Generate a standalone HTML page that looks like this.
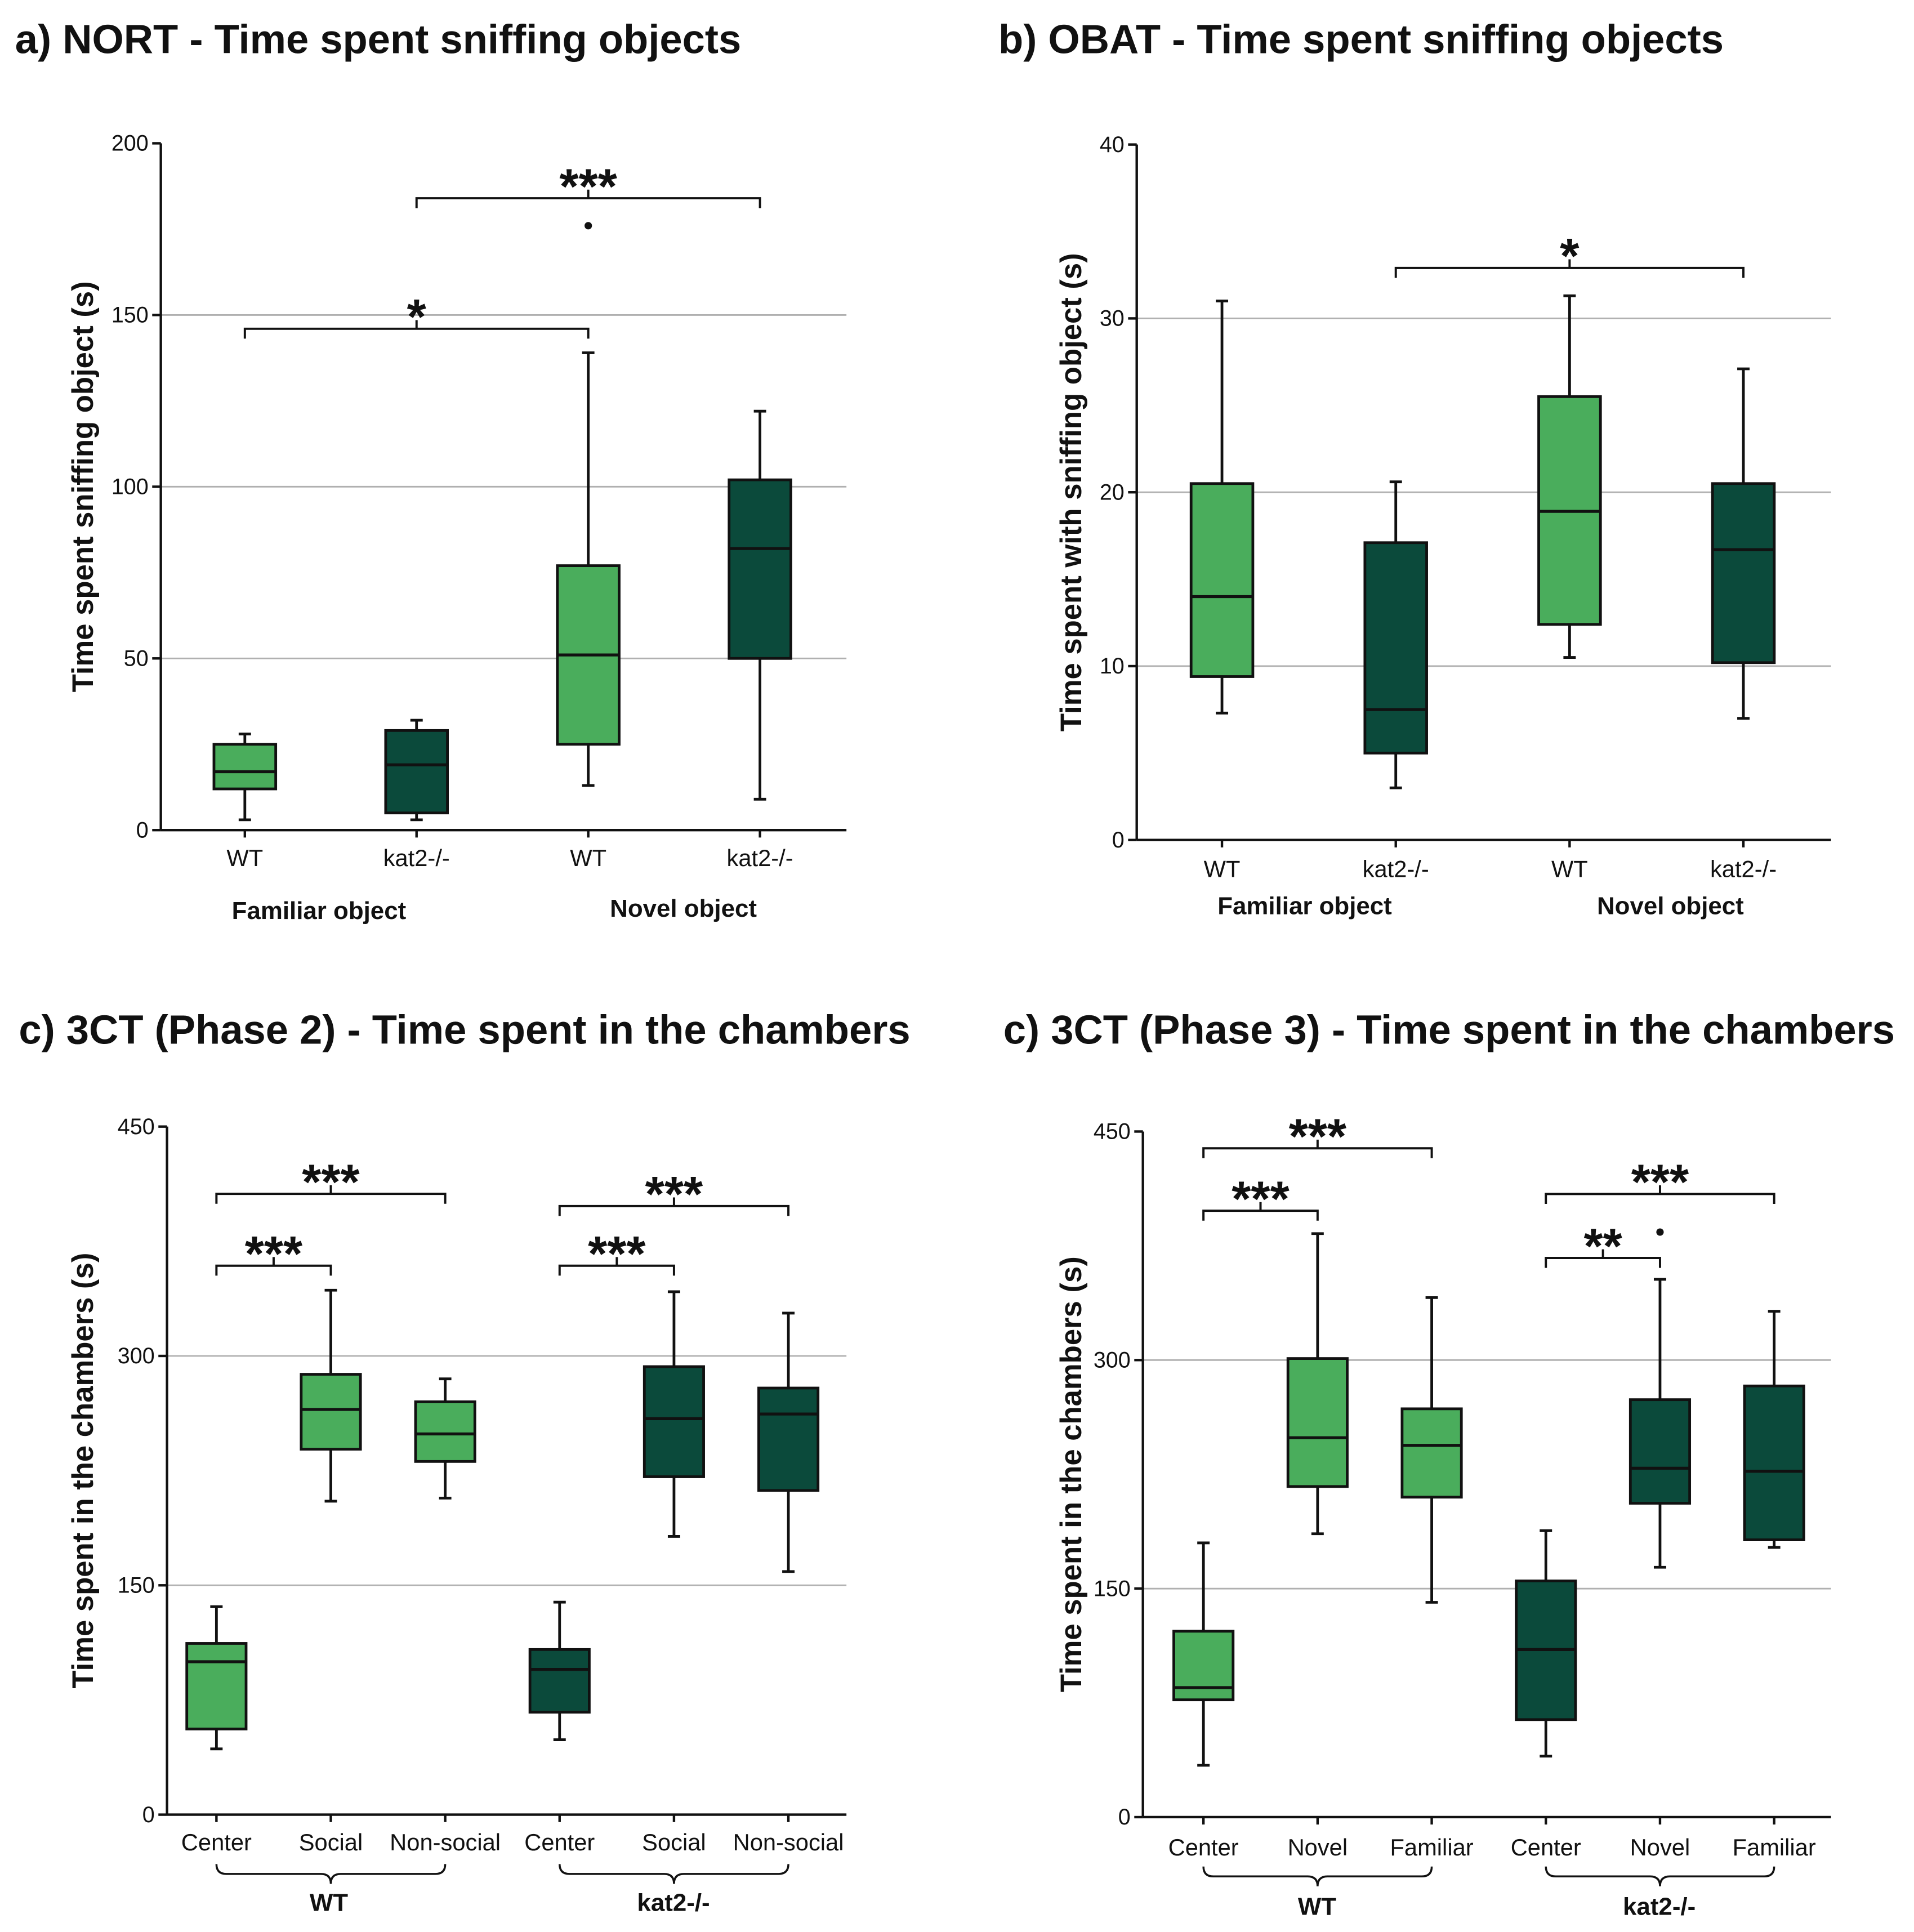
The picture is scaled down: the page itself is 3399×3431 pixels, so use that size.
<!DOCTYPE html>
<html><head><meta charset="utf-8"><style>
html,body{margin:0;padding:0;background:#fff}
svg{display:block}
text{font-family:"Liberation Sans",Arial,sans-serif;fill:#111}
</style></head><body>
<svg id="chart" width="3399" height="3431" viewBox="0 0 1549 1564" xmlns="http://www.w3.org/2000/svg"></svg>
<script>
// ---- data ----
const catsA = ["WT","kat2-/-","WT","kat2-/-"];
const whLoA = [3,3,13,9], q1A = [12,5,25,50], medA = [17,19,51,82], q3A = [25,29,77,102], whHiA = [28,32,139,122];
const outA = [[2,176]];
const ticksA = [0,50,100,150,200];
const sigA = [[0,2,146,"*"],[1,3,184,"***"]];

const catsB = ["WT","kat2-/-","WT","kat2-/-"];
const whLoB = [7.3,3,10.5,7], q1B = [9.4,5,12.4,10.2], medB = [14,7.5,18.9,16.7], q3B = [20.5,17.1,25.5,20.5], whHiB = [31,20.6,31.3,27.1];
const ticksB = [0,10,20,30,40];
const sigB = [[1,3,32.9,"*"]];

const catsC = ["Center","Social","Non-social","Center","Social","Non-social"];
const whLoC = [43,205,207,49,182,159], q1C = [56,239,231,67,221,212], medC = [100,265,249,95,259,262], q3C = [112,288,270,108,293,279], whHiC = [136,343,285,139,342,328];
const ticksC = [0,150,300,450];
const sigC = [[0,1,359,"***"],[0,2,406,"***"],[3,4,359,"***"],[3,5,398,"***"]];

const catsD = ["Center","Novel","Familiar","Center","Novel","Familiar"];
const whLoD = [34,186,141,40,164,177], q1D = [77,217,210,64,206,182], medD = [85,249,244,110,229,227], q3D = [122,301,268,155,274,283], whHiD = [180,383,341,188,353,332];
const outD = [[4,384]];
const ticksD = [0,150,300,450];
const sigD = [[0,1,398,"***"],[0,2,439,"***"],[3,4,367,"**"],[3,5,409,"***"]];

const LIGHT="#4aad5c", DARK="#0b4a3b";
const svg=document.getElementById('chart');
const NS="http://www.w3.org/2000/svg";
function mk(tag,attrs,parent){const e=document.createElementNS(NS,tag);for(const k in attrs)e.setAttribute(k,attrs[k]);(parent||svg).appendChild(e);return e;}
function txt(x,y,s,size,weight,anchor,parent){const t=mk('text',{x:x,y:y,'font-size':size,'font-weight':weight||'normal','text-anchor':anchor||'middle'},parent);t.textContent=s;return t;}

function panel(p){
  const g=mk('g',{});
  
  
  const ymax=p.ticks[p.ticks.length-1];
  const Y=v=>p.y0-(v/ymax)*(p.y0-p.y1);
  const X=i=>p.xs[0]+i*p.dx;
  const tt=txt(p.tx,p.ty,p.title,33,'bold','start',g);
  
  
  p.ticks.forEach((t,i)=>{
    if(i>0&&i<p.ticks.length-1){const l=mk('line',{x1:p.ax,x2:p.ax2,y1:Y(t),y2:Y(t),stroke:'#b0b0b0','stroke-width':1.3},g);
      }
    mk('line',{x1:p.ax-7,x2:p.ax,y1:Y(t),y2:Y(t),stroke:'#111','stroke-width':2},g);
    const lb=txt(p.ax-10,Y(t)+6,String(t),18,'normal','end',g);
    
  });
  const ya=mk('line',{x1:p.ax,x2:p.ax,y1:p.y1,y2:p.y0,stroke:'#111','stroke-width':2},g);
  
  const xa=mk('line',{x1:p.ax,x2:p.ax2,y1:p.y0,y2:p.y0,stroke:'#111','stroke-width':2},g);
  
  const yt=txt(0,0,p.ytitle,24,'bold','middle',g);
  yt.setAttribute('transform',`translate(${p.ytx},${(p.y0+p.y1)/2}) rotate(-90)`);
  
  const n=p.cats.length;
  for(let i=0;i<n;i++){
    const x=X(i), w=p.bw;
    const col=p.alt?((i%2===0)?LIGHT:DARK):((i<n/2)?LIGHT:DARK);
    mk('line',{x1:x,x2:x,y1:Y(p.hi[i]),y2:Y(p.lo[i]),stroke:'#111','stroke-width':2.2},g);
    mk('line',{x1:x-5,x2:x+5,y1:Y(p.hi[i]),y2:Y(p.hi[i]),stroke:'#111','stroke-width':2.2},g);
    mk('line',{x1:x-5,x2:x+5,y1:Y(p.lo[i]),y2:Y(p.lo[i]),stroke:'#111','stroke-width':2.2},g);
    const b=mk('rect',{x:x-w/2,y:Y(p.q3[i]),width:w,height:Y(p.q1[i])-Y(p.q3[i]),fill:col,stroke:'#111','stroke-width':2.2},g);
    
    mk('line',{x1:x-w/2,x2:x+w/2,y1:Y(p.med[i]),y2:Y(p.med[i]),stroke:'#111','stroke-width':2.4},g);
    mk('line',{x1:x,x2:x,y1:p.y0,y2:p.y0+6,stroke:'#111','stroke-width':2},g);
    const cl=txt(x,p.y0+p.catdy,p.cats[i],19,'normal','middle',g);
    
  }
  (p.out||[]).forEach(o=>{const c=mk('circle',{cx:X(o[0]),cy:Y(o[1]),r:3,fill:'#111'},g);
    });
  p.sig.forEach(s=>{
    const x1=X(s[0]),x2=X(s[1]),y=Y(s[2]),m=(x1+x2)/2;
    const pth=mk('path',{d:`M${x1},${y+8} V${y} H${x2} V${y+8} M${m},${y} V${y-7}`,fill:'none',stroke:'#111','stroke-width':1.8},g);
    
    const st=txt(m,y+4,s[3],40,'bold','middle',g);
    
  });
  p.groups.forEach(gr=>{
    if(gr.brace){const a=X(gr.brace[0]),b=X(gr.brace[1]),yb=p.y0+40,m=(a+b)/2;
      const br=mk('path',{d:`M${a},${yb} q0,8 8,8 H${m-8} q8,0 8,8 q0,-8 8,-8 H${b-8} q8,0 8,-8`,fill:'none',stroke:'#111','stroke-width':1.6},g);
      }
    const gl=txt(gr.x,gr.y,gr.label,20,'bold','middle',g);
    
  });
}

panel({name:'panel-a',alt:true,title:'a) NORT - Time spent sniffing objects',tx:12,ty:43,ytitle:'Time spent sniffing object (s)',ytx:75,
  ax:130,ax2:685,y0:672,y1:116,xs:[198],dx:139,bw:50,cats:catsA,lo:whLoA,q1:q1A,med:medA,q3:q3A,hi:whHiA,out:outA,ticks:ticksA,sig:sigA,catdy:29,
  groups:[{x:258,y:744,label:'Familiar object'},{x:553,y:742,label:'Novel object'}]});
panel({name:'panel-b',alt:true,title:'b) OBAT - Time spent sniffing objects',tx:808,ty:43,ytitle:'Time spent with sniffing object (s)',ytx:875,
  ax:920,ax2:1482,y0:680,y1:117,xs:[989],dx:140.7,bw:50,cats:catsB,lo:whLoB,q1:q1B,med:medB,q3:q3B,hi:whHiB,ticks:ticksB,sig:sigB,catdy:30,
  groups:[{x:1056,y:740,label:'Familiar object'},{x:1352,y:740,label:'Novel object'}]});
panel({name:'panel-c',title:'c) 3CT (Phase 2) - Time spent in the chambers',tx:15,ty:845,ytitle:'Time spent in the chambers (s)',ytx:75,
  ax:135,ax2:685,y0:1469,y1:912,xs:[175],dx:92.6,bw:48,cats:catsC,lo:whLoC,q1:q1C,med:medC,q3:q3C,hi:whHiC,ticks:ticksC,sig:sigC,catdy:29,
  groups:[{x:266,y:1547,label:'WT',brace:[0,2]},{x:545,y:1547,label:'kat2-/-',brace:[3,5]}]});
panel({name:'panel-d',title:'c) 3CT (Phase 3) - Time spent in the chambers',tx:812,ty:845,ytitle:'Time spent in the chambers (s)',ytx:875,
  ax:925,ax2:1482,y0:1471,y1:916,xs:[974],dx:92.4,bw:48,cats:catsD,lo:whLoD,q1:q1D,med:medD,q3:q3D,hi:whHiD,out:outD,ticks:ticksD,sig:sigD,catdy:31,
  groups:[{x:1066,y:1550,label:'WT',brace:[0,2]},{x:1343,y:1550,label:'kat2-/-',brace:[3,5]}]});
</script>
</body></html>
